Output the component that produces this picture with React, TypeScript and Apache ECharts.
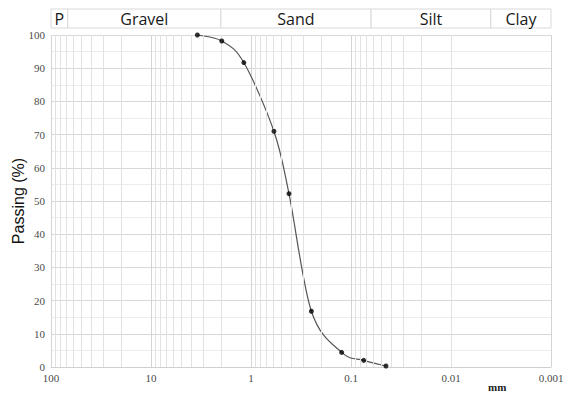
import React, { useEffect, useRef } from "react";
import * as echarts from "echarts";

// Grain size (mm) and percent passing
const grainSizes = [3.44, 1.96, 1.18, 0.59, 0.417, 0.249, 0.124, 0.0746, 0.0447];
const passing = [100, 98.2, 91.7, 71.0, 52.2, 16.8, 4.4, 2.0, 0.3];

// Soil classification band (boundaries in mm)
const bandNames = ["P", "Gravel", "Sand", "Silt", "Clay"];
const bandEdges = [100, 68, 2, 0.063, 0.004, 0.001];

const xMin = 0.001;
const xMax = 100;

export default function App() {
  const ref = useRef<HTMLDivElement>(null);
  useEffect(() => {
    if (!ref.current) return;
    const chart = echarts.init(ref.current, null, { renderer: "svg" });

    const minorX: number[] = [];
    for (let k = -3; k <= 1; k++) {
      for (let m = 2; m <= 9; m++) minorX.push(+(m * Math.pow(10, k)).toPrecision(3));
    }

    const bandData = bandNames.map((n, i) => [bandEdges[i], bandEdges[i + 1], i]);
    const points = grainSizes.map((g, i) => [g, passing[i]]);
    const segData = points.slice(0, -1).map((p, i) => [p[0], p[1], i]);

    const labelFont = { fontFamily: "Liberation Serif", fontSize: 11, color: "#4a4a4a" };

    chart.setOption({
      animation: false,
      backgroundColor: "#fff",
      grid: [
        { left: 51, right: 12, top: 35, bottom: 27, outerBoundsMode: "none" },
        { left: 51, right: 12, top: 9, height: 19, outerBoundsMode: "none" },
      ],
      xAxis: [
        {
          type: "log",
          logBase: 10,
          min: xMin,
          max: xMax,
          inverse: true,
          gridIndex: 0,
          axisLine: { show: true, lineStyle: { color: "#cfcfcf" } },
          axisTick: { show: false },
          axisLabel: {
            ...labelFont,
            margin: 5,
            formatter: (v: number) => String(+v.toPrecision(3)),
          },
          splitLine: { show: true, lineStyle: { color: "#d4d4d4", width: 1 } },
        },
        {
          type: "log",
          logBase: 10,
          min: xMin,
          max: xMax,
          inverse: true,
          gridIndex: 1,
          show: false,
        },
      ],
      yAxis: [
        {
          type: "value",
          min: 0,
          max: 100,
          interval: 10,
          gridIndex: 0,
          axisLine: { show: false },
          axisTick: { show: false },
          axisLabel: { ...labelFont, margin: 6 },
          splitLine: { show: true, lineStyle: { color: "#d8d8d8" } },
          minorTick: { show: false, splitNumber: 2 },
          minorSplitLine: { show: true, lineStyle: { color: "#ececec" } },
          name: "Passing (%)",
          nameLocation: "middle",
          nameGap: 25,
          nameMoveOverlap: false,
          nameTextStyle: { fontFamily: "Liberation Sans", fontSize: 16, color: "#111" },
        },
        { type: "value", min: 0, max: 1, gridIndex: 1, show: false },
      ],
      series: [
        {
          type: "line",
          xAxisIndex: 0,
          yAxisIndex: 0,
          data: [],
          z: 1,
          silent: true,
          markLine: {
            silent: true,
            symbol: "none",
            label: { show: false },
            lineStyle: { color: "#e2e2e2", type: "solid", width: 1 },
            data: minorX.map((v) => ({ xAxis: v })),
          },
        },
        {
          // smooth curve through the points (Catmull-Rom in pixel space)
          type: "custom",
          xAxisIndex: 0,
          yAxisIndex: 0,
          z: 4,
          silent: true,
          data: segData,
          renderItem: (params: any, api: any) => {
            const i = api.value(2);
            const n = points.length;
            const c = (k: number) => {
              const j = Math.max(0, Math.min(n - 1, k));
              return api.coord(points[j]);
            };
            const p0 = c(i - 1);
            const p1 = c(i);
            const p2 = c(i + 1);
            const p3 = c(i + 2);
            const t = 1 / 6;
            return {
              type: "bezierCurve",
              shape: {
                x1: p1[0],
                y1: p1[1],
                cpx1: p1[0] + (p2[0] - p0[0]) * t,
                cpy1: p1[1] + (p2[1] - p0[1]) * t,
                cpx2: p2[0] - (p3[0] - p1[0]) * t,
                cpy2: p2[1] - (p3[1] - p1[1]) * t,
                x2: p2[0],
                y2: p2[1],
              },
              style: { stroke: "#555", lineWidth: 1.2, fill: "none" },
            };
          },
        },
        {
          type: "scatter",
          xAxisIndex: 0,
          yAxisIndex: 0,
          z: 5,
          data: points,
          symbol: "circle",
          symbolSize: 5,
          itemStyle: { color: "#000" },
        },
        {
          type: "custom",
          xAxisIndex: 1,
          yAxisIndex: 1,
          data: bandData,
          silent: true,
          renderItem: (params: any, api: any) => {
            const a = api.coord([api.value(0), 1]);
            const b = api.coord([api.value(1), 0]);
            const idx = api.value(2);
            const x0 = Math.min(a[0], b[0]);
            const x1 = Math.max(a[0], b[0]);
            const y0 = Math.min(a[1], b[1]);
            const y1 = Math.max(a[1], b[1]);
            return {
              type: "group",
              children: [
                {
                  type: "rect",
                  shape: { x: x0, y: y0, width: x1 - x0, height: y1 - y0 },
                  style: { fill: "#fff", stroke: "#d9d9d9", lineWidth: 1 },
                },
                {
                  type: "text",
                  style: {
                    text: bandNames[idx],
                    x: (x0 + x1) / 2,
                    y: (y0 + y1) / 2,
                    align: "center",
                    verticalAlign: "middle",
                    fill: "#1a1a1a",
                    font: '16px "Open Sans"',
                  },
                },
              ],
            };
          },
        },
      ],
      graphic: [
        {
          type: "text",
          left: 488,
          top: 381,
          style: {
            text: "mm",
            fill: "#222",
            font: 'bold 11px "Liberation Serif"',
          },
        },
      ],
    });

    return () => chart.dispose();
  }, []);

  return (
    <div
      ref={ref}
      style={{ position: "fixed", left: 0, top: 0, width: 563, height: 394 }}
    />
  );
}
